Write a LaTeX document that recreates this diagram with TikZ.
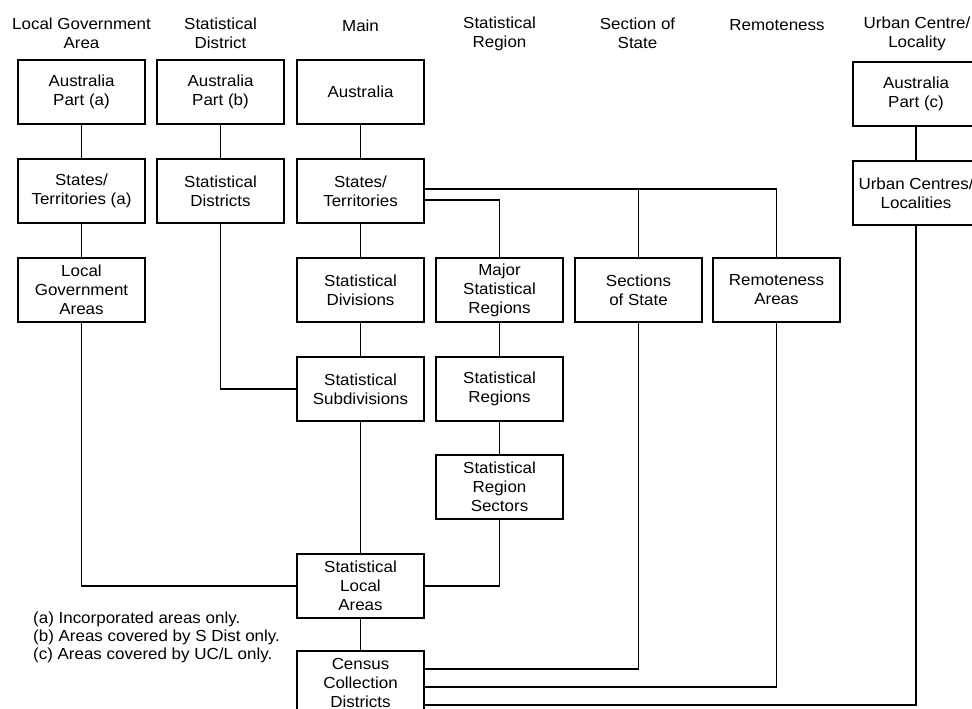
\documentclass[tikz,border=0pt]{standalone}
\usepackage{fontspec}
\setmainfont{Liberation Sans}[FakeStretch=1.06]
\begin{document}
\begin{tikzpicture}[x=1pt,y=-1pt,
  every node/.style={font=\fontsize{16}{19}\selectfont},
  box/.style={draw,line width=2pt,minimum width=127pt,minimum height=64pt,align=center,inner sep=0pt},
  hdr/.style={align=center,inner sep=0pt},
  conn/.style={line width=1.8pt}]
\useasboundingbox[fill=white] (0,0) rectangle (972,709);
% headers
\node[hdr] (h1) at (81.5,33) {Local Government\\Area};
\node[hdr] (h2) at (220.5,33) {Statistical\\District};
\node[hdr] (h3) at (360.5,26) {Main};
\node[hdr] (h4) at (499.5,34) {Statistical\\Region};
\node[hdr] (h5) at (637.5,33) {Section of\\State};
\node[hdr] (h6) at (777,25) {Remoteness};
\node[hdr] (h7) at (917,34) {Urban Centre/\\Locality};
% boxes
\node[box] (apa) at (81.5,92) {Australia\\Part (a)};
\node[box] (sta) at (81.5,191) {States/\\Territories (a)};
\node[box] (lga) at (81.5,290) {Local\\Government\\Areas};
\node[box] (apb) at (220.5,92) {Australia\\Part (b)};
\node[box] (sd) at (220.5,191) {Statistical\\Districts};
\node[box] (au) at (360.5,92) {Australia};
\node[box] (st) at (360.5,191) {States/\\Territories};
\node[box] (sdiv) at (360.5,290) {Statistical\\Divisions};
\node[box] (ssub) at (360.5,389) {Statistical\\Subdivisions};
\node[box] (sla) at (360.5,586) {Statistical\\Local\\Areas};
\node[box] (ccd) at (360.5,683) {Census\\Collection\\Districts};
\node[box] (msr) at (499.5,290) {Major\\Statistical\\Regions};
\node[box] (sr) at (499.5,389) {Statistical\\Regions};
\node[box] (srs) at (499.5,487) {Statistical\\Region\\Sectors};
\node[box] (sos) at (638.5,290) {Sections\\of State};
\node[box] (ra) at (776.5,290) {Remoteness\\Areas};
\node[box] (apc) at (916,94) {Australia\\Part (c)};
\node[box] (ucl) at (916,193) {Urban Centres/\\Localities};
% footnote
\node[anchor=north west,align=left,inner sep=0pt,font=\fontsize{16}{18}\selectfont] (fn) at (33,612)
 {(a) Incorporated areas only.\\(b) Areas covered by S Dist only.\\(c) Areas covered by UC/L only.};
% connectors
\draw[conn] (apa) -- (sta);
\draw[conn] (sta) -- (lga);
\draw[conn] (apb) -- (sd);
\draw[conn] (au) -- (st);
\draw[conn] (st) -- (sdiv);
\draw[conn] (sdiv) -- (ssub);
\draw[conn] (ssub) -- (sla);
\draw[conn] (sla) -- (ccd);
\draw[conn] (msr) -- (sr);
\draw[conn] (sr) -- (srs);
\draw[conn] (apc) -- (ucl);
\coordinate (j1) at ([yshift=2pt]st.east);
\coordinate (j2) at ([yshift=-9pt]st.east);
\draw[conn] (j1) -| (ra.north);
\draw[conn] (sos.north) -- (sos.north |- j1);
\draw[conn] (j2) -| (msr.north);
\draw[conn] (sd.south) |- (ssub.west);
\draw[conn] (lga.south) |- (sla.west);
\draw[conn] (srs.south) |- (sla.east);
\coordinate (c1) at ([yshift=14pt]ccd.east);
\coordinate (c2) at ([yshift=-4pt]ccd.east);
\coordinate (c3) at ([yshift=-22pt]ccd.east);
\draw[conn] (sos.south) |- (c1);
\draw[conn] (ra.south) |- (c2);
\draw[conn] (ucl.south) |- (c3);
\end{tikzpicture}
\end{document}
